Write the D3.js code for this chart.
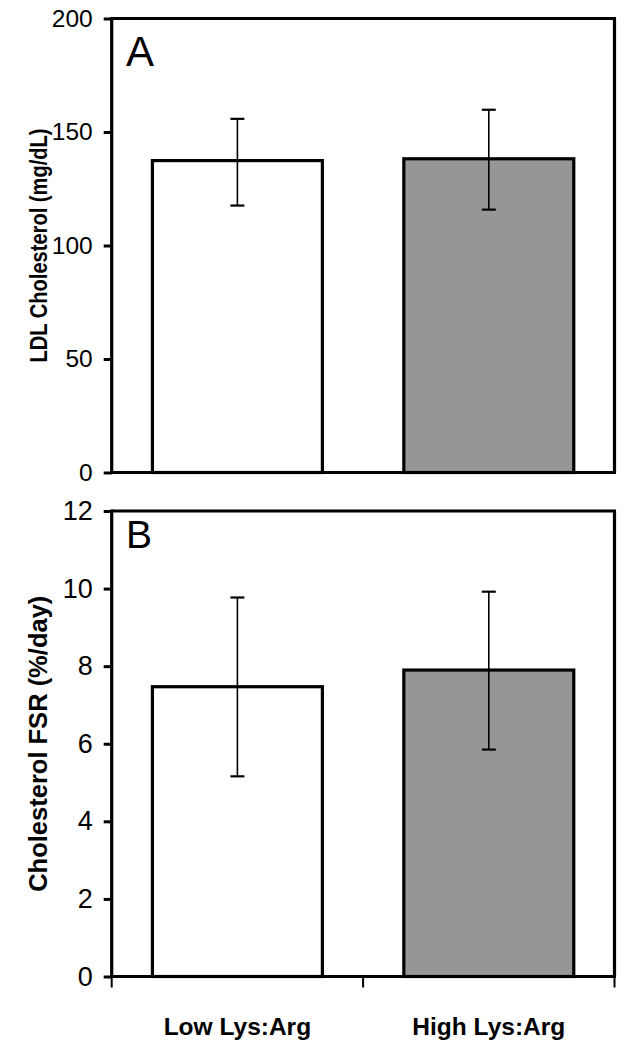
<!DOCTYPE html>
<html>
<head>
<meta charset="utf-8">
<script src="https://cdn.jsdelivr.net/npm/d3@7"></script>
<style>
  html, body { margin: 0; padding: 0; background: #fff; }
  svg { display: block; }
  text { font-family: "Liberation Sans", Arial, sans-serif; }
</style>
</head>
<body>
<svg id="chart" width="626" height="1050"></svg>
<script>
// ---- data ----
const categories = ["Low Lys:Arg", "High Lys:Arg"];
const barColors = ["#ffffff", "#969696"];

const ldlMeans = [137.4, 138.2];
const ldlErrUpper = [155.8, 159.8];
const ldlErrLower = [117.6, 115.8];
const ldlTicks = [0, 50, 100, 150, 200];

const fsrMeans = [7.47, 7.90];
const fsrErrUpper = [9.77, 9.92];
const fsrErrLower = [5.16, 5.85];
const fsrTicks = [0, 2, 4, 6, 8, 10, 12];

const panels = [
  { letter: "A", title: "LDL Cholesterol (mg/dL)", means: ldlMeans, up: ldlErrUpper, lo: ldlErrLower,
    ticks: ldlTicks, max: 200, top: 18.5, bottom: 472.5, titleSize: 23.5, titleLen: 234, tickSize: 24.5,
    letterSize: 42, letterY: 65.5, xTicks: false },
  { letter: "B", title: "Cholesterol FSR (%/day)", means: fsrMeans, up: fsrErrUpper, lo: fsrErrLower,
    ticks: fsrTicks, max: 12, top: 511, bottom: 976.5, titleSize: 25.5, titleLen: null, tickSize: 27,
    letterSize: 39, letterY: 548, xTicks: true }
];

const svg = d3.select("#chart");
const left = 111.7, right = 614.5;

const x = d3.scaleBand().domain(categories).range([left, right])
  .paddingInner(0.324).paddingOuter(0.162);
const xEdge = d3.scaleLinear().domain([0, categories.length]).range([left, right]);

panels.forEach(p => {
  const y = d3.scaleLinear().domain([0, p.max]).range([p.bottom, p.top]);
  const g = svg.append("g");

  // bars
  g.selectAll("rect.bar").data(p.means).join("rect")
    .attr("x", (d, i) => x(categories[i]))
    .attr("y", d => y(d))
    .attr("width", x.bandwidth())
    .attr("height", d => y(0) - y(d))
    .attr("fill", (d, i) => barColors[i])
    .attr("stroke", "#000").attr("stroke-width", 3.2);

  // error bars
  const cx = i => x(categories[i]) + x.bandwidth() / 2;
  const eb = g.selectAll("g.err").data(p.means).join("g");
  eb.append("line")
    .attr("x1", (d, i) => cx(i)).attr("x2", (d, i) => cx(i))
    .attr("y1", (d, i) => y(p.up[i])).attr("y2", (d, i) => y(p.lo[i]))
    .attr("stroke", "#000").attr("stroke-width", 1.6);
  [p.up, p.lo].forEach(arr => {
    eb.append("line")
      .attr("x1", (d, i) => cx(i) - 7).attr("x2", (d, i) => cx(i) + 7)
      .attr("y1", (d, i) => y(arr[i])).attr("y2", (d, i) => y(arr[i]))
      .attr("stroke", "#000").attr("stroke-width", 2.2);
  });

  // frame top and right
  g.append("line").attr("x1", left).attr("x2", right + 1.5)
    .attr("y1", p.top).attr("y2", p.top).attr("stroke", "#000").attr("stroke-width", 3.2);
  g.append("line").attr("x1", right).attr("x2", right)
    .attr("y1", p.top).attr("y2", p.bottom).attr("stroke", "#000").attr("stroke-width", 3.2);

  // y axis
  const yAxis = d3.axisLeft(y).tickValues(p.ticks).tickSize(8).tickPadding(11).tickFormat(d3.format("d"));
  const ya = g.append("g").attr("transform", `translate(${left},0)`).call(yAxis)
    .attr("font-size", null).attr("font-family", null);
  ya.select(".domain").attr("stroke-width", 3.2).attr("d", `M0,${p.top - 1.5}V${p.bottom + 1.5}`);
  ya.selectAll(".tick line").attr("stroke-width", 3);
  ya.selectAll(".tick text").style("font-size", p.tickSize + "px").attr("fill", "#000")
    .style("font-family", "'Liberation Sans', Arial, sans-serif");

  // x axis baseline
  g.append("line").attr("x1", left - 1.5).attr("x2", right + 1.5)
    .attr("y1", p.bottom).attr("y2", p.bottom).attr("stroke", "#000").attr("stroke-width", 3.2);

  if (p.xTicks) {
    d3.range(categories.length + 1).forEach(k => {
      g.append("line").attr("x1", xEdge(k)).attr("x2", xEdge(k))
        .attr("y1", p.bottom).attr("y2", p.bottom + 11)
        .attr("stroke", "#000").attr("stroke-width", 2);
    });
    g.selectAll("text.xl").data(categories).join("text")
      .attr("x", d => x(d) + x.bandwidth() / 2)
      .attr("y", 1035)
      .attr("text-anchor", "middle")
      .attr("font-size", 24.5).attr("font-weight", "bold")
      .text(d => d);
  }

  // panel letter
  g.append("text").attr("x", 126).attr("y", p.letterY)
    .attr("font-size", p.letterSize).text(p.letter);

  // y title
  const t = g.append("text")
    .attr("transform", `translate(47,${(p.top + p.bottom) / 2}) rotate(-90)`)
    .attr("text-anchor", "middle")
    .attr("font-size", p.titleSize).attr("font-weight", "bold")
    .text(p.title);
  if (p.titleLen) t.attr("textLength", p.titleLen).attr("lengthAdjust", "spacingAndGlyphs");
});
</script>
</body>
</html>
